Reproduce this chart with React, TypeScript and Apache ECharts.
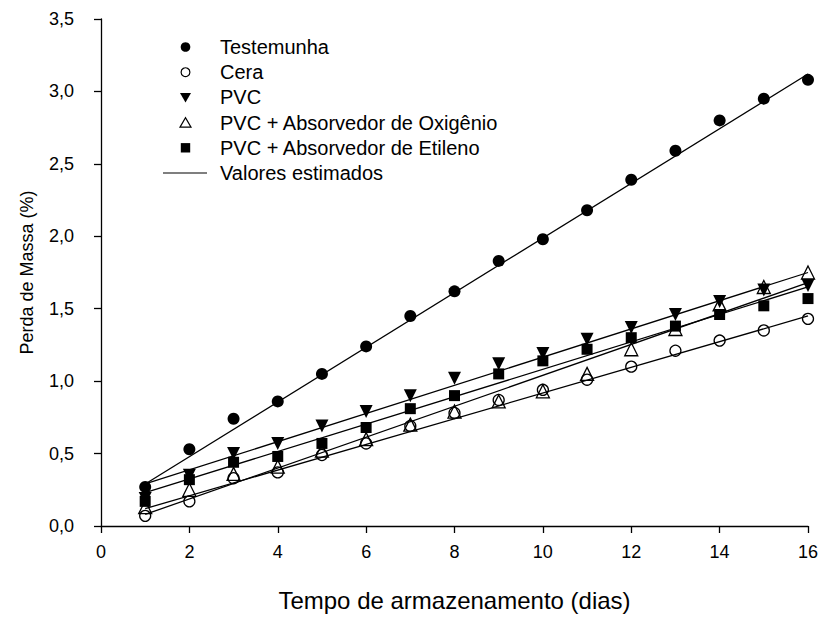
import React, { useEffect, useRef } from "react";
import * as echarts from "echarts";

const days = [1, 2, 3, 4, 5, 6, 7, 8, 9, 10, 11, 12, 13, 14, 15, 16];
const testemunha = [0.27, 0.53, 0.74, 0.86, 1.05, 1.24, 1.45, 1.62, 1.83, 1.98, 2.18, 2.39, 2.59, 2.80, 2.95, 3.08];
const cera = [0.07, 0.17, 0.33, 0.37, 0.49, 0.57, 0.69, 0.78, 0.87, 0.94, 1.01, 1.10, 1.21, 1.28, 1.35, 1.43];
const pvc = [0.19, 0.35, 0.50, 0.57, 0.69, 0.79, 0.90, 1.02, 1.12, 1.19, 1.29, 1.37, 1.46, 1.55, 1.63, 1.66];
const pvcOxigenio = [0.13, 0.25, 0.36, 0.41, 0.52, 0.60, 0.70, 0.79, 0.86, 0.93, 1.05, 1.22, 1.36, 1.53, 1.65, 1.75];
const pvcEtileno = [0.17, 0.32, 0.44, 0.48, 0.57, 0.68, 0.81, 0.90, 1.05, 1.14, 1.22, 1.30, 1.38, 1.46, 1.52, 1.57];

// Estimated (fitted) lines, read at day 1 and day 16
const fitDays = [1, 16];
const fitTestemunha = [0.29, 3.12];
const fitCera = [0.12, 1.45];
const fitPvc = [0.29, 1.75];
const fitPvcOxigenio = [0.08, 1.68];
const fitPvcEtileno = [0.23, 1.65];

const names = [
  "Testemunha",
  "Cera",
  "PVC",
  "PVC + Absorvedor de Oxigênio",
  "PVC + Absorvedor de Etileno",
  "Valores estimados",
];

const FONT = "Liberation Sans, Arial, sans-serif";

function pairs(xs: number[], ys: number[]) {
  return xs.map((x, i) => [x, ys[i]]);
}

function legendGraphic() {
  const x0 = 163;
  const cx = 185.5;
  const tx = 220;
  const y0 = 47;
  const dy = 25.2;
  const stroke = { stroke: "#000", lineWidth: 1.2 };
  const items: any[] = [];
  const icons: any[] = [
    { type: "circle", shape: { cx, cy: y0, r: 4.8 }, style: { fill: "#000" } },
    { type: "circle", shape: { cx, cy: y0 + dy, r: 4.4 }, style: { fill: "#fff", ...stroke } },
    {
      type: "polygon",
      shape: { points: [[cx - 5.5, y0 + 2 * dy - 4.5], [cx + 5.5, y0 + 2 * dy - 4.5], [cx, y0 + 2 * dy + 5]] },
      style: { fill: "#000" },
    },
    {
      type: "polygon",
      shape: { points: [[cx - 5.5, y0 + 3 * dy + 4.5], [cx + 5.5, y0 + 3 * dy + 4.5], [cx, y0 + 3 * dy - 5]] },
      style: { fill: "#fff", ...stroke },
    },
    { type: "rect", shape: { x: cx - 4.7, y: y0 + 4 * dy - 4.7, width: 9.4, height: 9.4 }, style: { fill: "#000" } },
    { type: "line", shape: { x1: x0, y1: y0 + 5 * dy, x2: x0 + 44, y2: y0 + 5 * dy }, style: { ...stroke } },
  ];
  icons.forEach((ic) => items.push({ ...ic, silent: true }));
  names.forEach((n, i) => {
    items.push({
      type: "text",
      x: tx,
      y: y0 + i * dy,
      silent: true,
      style: { text: n, fill: "#000", font: `20px ${FONT}`, textVerticalAlign: "middle", verticalAlign: "middle" },
    });
  });
  return items;
}

export default function App() {
  const ref = useRef<HTMLDivElement>(null);
  useEffect(() => {
    if (!ref.current) return;
    const chart = echarts.init(ref.current, null, { renderer: "svg" });
    const fitLine = (ys: number[]) => ({
      type: "line",
      name: names[5],
      data: pairs(fitDays, ys),
      symbol: "none",
      showSymbol: false,
      lineStyle: { color: "#000", width: 1.3 },
      itemStyle: { color: "#000" },
      z: 3,
      silent: true,
    });
    chart.setOption({
      animation: false,
      backgroundColor: "#fff",
      textStyle: { fontFamily: FONT, color: "#000" },
      grid: { left: 101, right: 15, top: 19, bottom: 85, containLabel: false },
      graphic: legendGraphic(),
      xAxis: {
        type: "value",
        min: 0,
        max: 16,
        interval: 2,
        name: "Tempo de armazenamento (dias)",
        nameLocation: "middle",
        nameGap: 62,
        nameTextStyle: { fontFamily: FONT, fontSize: 24, color: "#000" },
        axisLine: { show: true, onZero: false, lineStyle: { color: "#000", width: 1.3 } },
        axisTick: { show: true, inside: false, length: 7, lineStyle: { color: "#000", width: 1.3 } },
        axisLabel: { fontFamily: FONT, fontSize: 18, color: "#000", margin: 17 },
        splitLine: { show: false },
      },
      yAxis: {
        type: "value",
        min: 0,
        max: 3.5,
        interval: 0.5,
        name: "Perda de Massa (%)",
        nameLocation: "middle",
        nameGap: 65,
        nameTextStyle: { fontFamily: FONT, fontSize: 18, color: "#000" },
        axisLine: { show: true, onZero: false, lineStyle: { color: "#000", width: 1.3 } },
        axisTick: { show: true, inside: false, length: 7, lineStyle: { color: "#000", width: 1.3 } },
        axisLabel: {
          fontFamily: FONT,
          fontSize: 18,
          color: "#000",
          margin: 27,
          formatter: (v: number) => v.toFixed(1).replace(".", ","),
        },
        splitLine: { show: false },
      },
      series: [
        {
          type: "scatter",
          name: names[0],
          data: pairs(days, testemunha),
          symbol: "circle",
          symbolSize: 12,
          itemStyle: { color: "#000", opacity: 1 },
          z: 2,
        },
        {
          type: "scatter",
          name: names[1],
          data: pairs(days, cera),
          symbol: "circle",
          symbolSize: 11,
          itemStyle: { color: "rgba(255,255,255,0)", borderColor: "#000", borderWidth: 1.3, opacity: 1 },
          z: 2,
        },
        {
          type: "scatter",
          name: names[2],
          data: pairs(days, pvc),
          symbol: "triangle",
          symbolRotate: 180,
          symbolSize: 13,
          itemStyle: { color: "#000", opacity: 1 },
          z: 2,
        },
        {
          type: "scatter",
          name: names[3],
          data: pairs(days, pvcOxigenio),
          symbol: "triangle",
          symbolSize: 13,
          itemStyle: { color: "rgba(255,255,255,0)", borderColor: "#000", borderWidth: 1.3, opacity: 1 },
          z: 2,
        },
        {
          type: "scatter",
          name: names[4],
          data: pairs(days, pvcEtileno),
          symbol: "rect",
          symbolSize: 11,
          itemStyle: { color: "#000", opacity: 1 },
          z: 2,
        },
        fitLine(fitTestemunha),
        fitLine(fitCera),
        fitLine(fitPvc),
        fitLine(fitPvcOxigenio),
        fitLine(fitPvcEtileno),
      ],
    });
    return () => chart.dispose();
  }, []);
  return (
    <div
      ref={ref}
      style={{ position: "absolute", left: 0, top: 0, width: 823, height: 617, background: "#fff" }}
    />
  );
}
